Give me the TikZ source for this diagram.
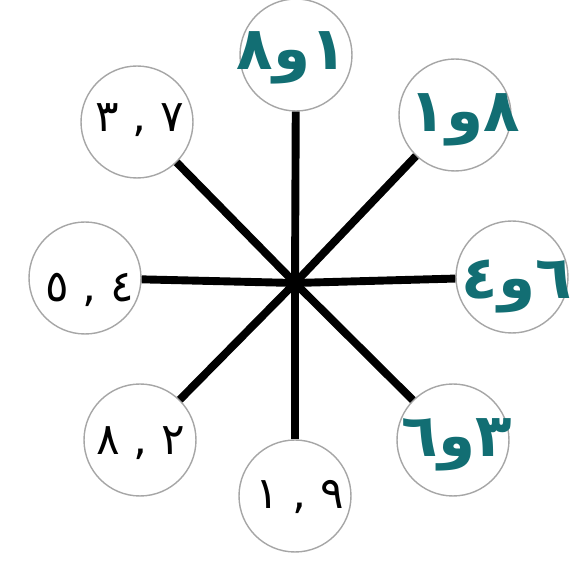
\documentclass[tikz,border=0pt]{standalone}
\usepackage{fontspec}
\newfontfamily\arabicfont[Script=Arabic]{DejaVu Sans}
\TeXXeTstate=1
\definecolor{inkteal}{RGB}{18,110,115}

\begin{document}
\begin{tikzpicture}[x=0.02cm, y=-0.02cm,
    % styles
    pan/.style={circle, draw=gray!70, line width=0.8pt, fill=white, minimum size=2.24cm},
    spoke/.style={line width=4.5pt, black},
    tealnum/.style={font=\arabicfont\bfseries\fontsize{34}{40}\selectfont, text=inkteal},
    inknum/.style={font=\arabicfont\fontsize{25}{30}\selectfont, text=black}
]
\useasboundingbox (0,0) rectangle (576,564);

% hub where the spokes meet
\coordinate (hub) at (295,283);

% circles, clockwise from the top
\node[pan] (ctop) at (296,55) {};
\node[pan] (ctr) at (455,115) {};
\node[pan] (cright) at (512,277) {};
\node[pan] (cbr) at (453,440) {};
\node[pan] (cbot) at (295,496) {};
\node[pan] (cbl) at (140,440) {};
\node[pan] (cleft) at (85,278) {};
\node[pan] (ctl) at (137,122) {};

% spokes
\foreach \c in {ctop,ctr,cright,cbr,cbot,cbl,cleft,ctl}
    \draw[spoke] (hub) -- (\c);

% numbers in the circles
\node[tealnum] (ntop) at (292,58) {\beginR ١و٨\endR};
\node[tealnum] (ntr) at (465,120) {\beginR ٨و١\endR};
\node[tealnum] (nright) at (517,287) {\beginR ٦و٤\endR};
\node[tealnum] (nbr) at (457,445) {\beginR ٣و٦\endR};
\node[inknum] (nbot) at (300,497) {\beginR ٩ , ١\endR};
\node[inknum] (nbl) at (141,443) {\beginR ٢ , ٨\endR};
\node[inknum] (nleft) at (90,290) {\beginR ٤ , ٥\endR};
\node[inknum] (ntl) at (140,120) {\beginR ٧ , ٣\endR};

\end{tikzpicture}
\end{document}
